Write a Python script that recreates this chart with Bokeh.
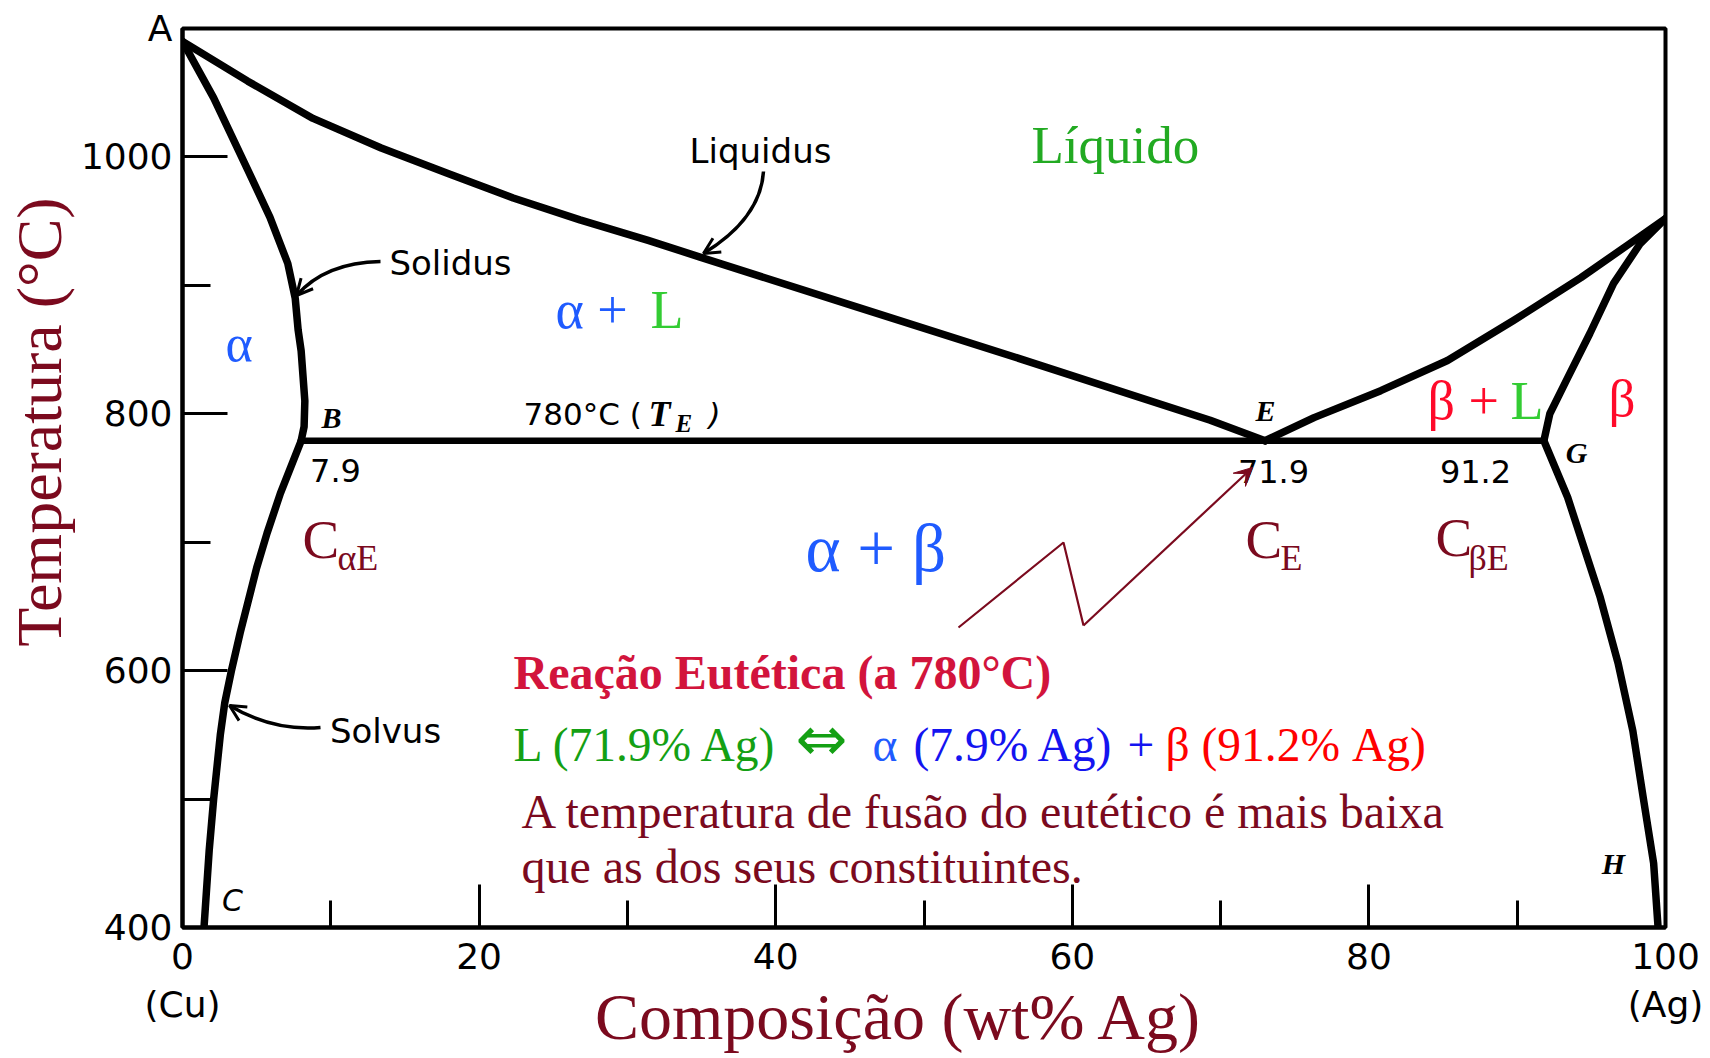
import math
from bokeh.plotting import figure
from bokeh.models import Range1d, FixedTicker, Label, Arrow, VeeHead, OpenHead
from bokeh.embed import file_html
from bokeh.resources import INLINE

# ---------------- data (wt% Ag, temperature in °C) ----------------
liquidus_left_x = [0.0, 4.4, 8.8, 13.4, 17.9, 22.3, 26.8, 31.4, 34.9, 45.5, 56.7, 69.3, 73.0]
liquidus_left_T = [1090, 1059, 1030, 1007, 987, 968, 951, 935, 922, 883, 842, 795, 779]

solidus_left_x = [0.0, 2.1, 4.4, 5.9, 7.1, 7.6, 7.8, 8.0, 8.25, 8.2, 8.0]
solidus_left_T = [1090, 1046, 990, 953, 917, 890, 865, 849, 810, 790, 779]

solvus_left_x = [8.0, 6.6, 5.7, 5.0, 3.9, 3.3, 2.85, 2.55, 2.1, 1.8, 1.45]
solvus_left_T = [779, 738, 707, 680, 630, 600, 575, 550, 500, 460, 400]

liquidus_right_x = [73.0, 76.3, 80.8, 85.3, 89.75, 94.3, 97.6, 100.0]
liquidus_right_T = [779, 797, 818, 841.5, 872.6, 906, 932.6, 952]

solidus_right_x = [100.0, 98.3, 96.5, 94.9, 93.4, 92.2, 91.8]
solidus_right_T = [952, 932.6, 901.5, 862.5, 828, 800, 779]

solvus_right_x = [91.8, 93.4, 95.6, 96.8, 97.8, 98.5, 99.2, 99.5]
solvus_right_T = [779, 735, 657, 606, 553, 501, 450, 400]

eutectic_x = [8.0, 91.8]
eutectic_T = [779, 779]

x_major_ticks = [0, 20, 40, 60, 80, 100]
x_minor_ticks = [10, 30, 50, 70, 90]
x_tick_labels = ["0\n(Cu)", "20", "40", "60", "80", "100\n(Ag)"]
y_major_ticks = [400, 600, 800, 1000, 1100]
y_minor_ticks = [500, 700, 900]
y_tick_labels = ["400", "600", "800", "1000", "A"]

NBSP = "\u00a0"

# ---------------- colours ----------------
MAROON = "#7B0A1E"
BLUE_R = "#1F5BFF"
RED_R = "#FF0A2A"
GREEN_L = "#33CC33"
GREEN_LIQ = "#22AA22"
CRIMSON = "#D2143C"
GREEN_EQ = "#14A014"
BLUE_EQ = "#1414F0"
RED_EQ = "#FF0000"

W, H = 1708, 1056
FL, FR, FT, FB = 182, 1665, 28, 927   # frame edges on the page

p = figure(width=W, height=H,
           x_range=Range1d(0, 100), y_range=Range1d(400, 1100),
           output_backend="svg", toolbar_location=None,
           min_border_left=FL, min_border_right=W - FR,
           min_border_top=FT, min_border_bottom=H - FB)
p.xgrid.visible = False
p.ygrid.visible = False
p.outline_line_color = "black"
p.outline_line_width = 4
p.outline_line_alpha = 1.0
p.background_fill_color = "white"
p.border_fill_color = "white"

p.xaxis.ticker = FixedTicker(ticks=x_major_ticks, minor_ticks=x_minor_ticks)
p.yaxis.ticker = FixedTicker(ticks=y_major_ticks, minor_ticks=y_minor_ticks)
p.xaxis.major_label_overrides = dict(zip(x_major_ticks, x_tick_labels))
p.yaxis.major_label_overrides = dict(zip(y_major_ticks, y_tick_labels))

for ax in (p.xaxis[0], p.yaxis[0]):
    ax.axis_line_width = 4
    ax.axis_line_color = "black"
    ax.major_tick_line_width = 3
    ax.minor_tick_line_width = 3
    ax.major_tick_line_color = "black"
    ax.minor_tick_line_color = "black"
    ax.major_tick_out = 0
    ax.minor_tick_out = 0
    ax.major_label_text_font = "DejaVu Sans"
    ax.major_label_text_font_size = "36px"
    ax.major_label_text_color = "black"
    ax.axis_label_text_font = "Liberation Serif"
    ax.axis_label_text_font_style = "normal"
    ax.axis_label_text_color = MAROON
p.xaxis.major_tick_in = 43
p.xaxis.minor_tick_in = 27
p.yaxis.major_tick_in = 45
p.yaxis.minor_tick_in = 28
p.xaxis.major_label_standoff = 8
p.yaxis.major_label_standoff = 10
p.xaxis.major_label_text_line_height = 1.19

p.yaxis.axis_label = NBSP * 7 + "Temperatura (°C)"
p.yaxis.axis_label_text_font_size = "64px"
p.yaxis.axis_label_standoff = 3
p.xaxis.axis_label = "Composição (wt% Ag)" + NBSP * 3
p.xaxis.axis_label_text_font_size = "66px"
p.xaxis.axis_label_standoff = -48

# ---------------- phase boundaries ----------------
for xs, ts in [(liquidus_left_x, liquidus_left_T), (solidus_left_x, solidus_left_T),
               (solvus_left_x, solvus_left_T), (liquidus_right_x, liquidus_right_T),
               (solidus_right_x, solidus_right_T), (solvus_right_x, solvus_right_T)]:
    p.line(xs, ts, line_width=7.5, line_color="black", line_join="round", line_cap="round")
p.line(eutectic_x, eutectic_T, line_width=6.5, line_color="black")


# ---------------- annotations ----------------
def at(xp, yp):
    """page-pixel position of an annotation -> data units"""
    return (xp - FL) * 100 / (FR - FL), 1100 - (yp - FT) * 700 / (FB - FT)


def label(text, xp, yp, size, color="black", font="Liberation Serif", style="normal",
          align="left", baseline="alphabetic", angle=0.0):
    if baseline == "alphabetic":
        yp = yp - 0.32 * size
    x, y = at(xp, yp)
    p.add_layout(Label(x=x, y=y, text=text, text_font=font, text_font_size=f"{size}px",
                       text_color=color, text_font_style=style, text_align=align,
                       text_baseline=baseline, angle=angle))


# point letters
label("B", 331, 417, 30, style="bold italic", align="center", baseline="middle")
label("C", 232, 900, 30, font="DejaVu Sans", style="italic", align="center", baseline="middle")
label("E", 1265, 410, 30, style="bold italic", align="center", baseline="middle")
label("G", 1576, 452, 30, style="bold italic", align="center", baseline="middle")
label("H", 1613, 863, 30, style="bold italic", align="center", baseline="middle")

# curve names
label("Liquidus", 760, 150, 34, font="DejaVu Sans", align="center", baseline="middle")
label("Solidus", 450, 262, 34, font="DejaVu Sans", align="center", baseline="middle")
label("Solvus", 385, 730, 34, font="DejaVu Sans", align="center", baseline="middle")

# composition numbers
label("7.9", 335, 470, 32, font="DejaVu Sans", align="center", baseline="middle")
label("71.9", 1273, 471, 32, font="DejaVu Sans", align="center", baseline="middle")
label("91.2", 1475, 471, 32, font="DejaVu Sans", align="center", baseline="middle")

# 780°C (T_E)
label("780°C (", 523, 413, 31, font="DejaVu Sans", baseline="middle")
label("T", 648, 413, 36, style="bold italic", baseline="middle")
label("E", 675, 423, 25, style="bold italic", baseline="middle")
label(")", 708, 413, 31, font="DejaVu Sans", style="italic", baseline="middle")

# phase regions
label("Líquido", 1031, 161, 53, GREEN_LIQ)
label("α", 225, 360, 52, BLUE_R)
label("α +", 555, 327, 54, BLUE_R)
label("L", 650, 327, 54, GREEN_L)
label("α + β", 805, 569, 67, BLUE_R)
label("β +", 1427, 418, 54, RED_R)
label("L", 1510, 418, 54, GREEN_L)
label("β", 1608, 414, 53, RED_R)

# C_alphaE, C_E, C_betaE
label("C", 302, 557, 55, MAROON)
label("αE", 337, 569, 36, MAROON)
label("C", 1245, 557, 55, MAROON)
label("E", 1280, 569, 36, MAROON)
label("C", 1435, 555, 55, MAROON)
label("βE", 1468, 569, 36, MAROON)

# eutectic reaction text
label("Reação Eutética (a 780°C)", 513, 687, 48, CRIMSON, style="bold")
label("L (71.9% Ag)", 513, 760, 47.5, GREEN_EQ)
label("⇔", 821, 738, 62, GREEN_EQ, font="DejaVu Sans", align="center", baseline="middle")
label("α", 872, 760, 47.5, BLUE_R)
label("(7.9% Ag)", 913, 760, 47.5, BLUE_EQ)
label("+", 1127, 760, 47.5, BLUE_EQ)
label("β (91.2% Ag)", 1165, 760, 47.5, RED_EQ)
label("A temperatura de fusão do eutético é mais baixa", 521, 826, 48, MAROON)
label("que as dos seus constituintes.", 521, 881, 48, MAROON)


# small curved arrows pointing at the boundary names
def curved_arrow(start, ctrl, end, width=3.5):
    (x0, y0), (cx, cy), (x1, y1) = at(*start), at(*ctrl), at(*end)
    p.quadratic(x0=[x0], y0=[y0], cx=[cx], cy=[cy], x1=[x1], y1=[y1],
                line_width=width, line_color="black")
    sx, sy = x1 - 0.3 * (x1 - cx), y1 - 0.3 * (y1 - cy)
    p.add_layout(Arrow(x_start=sx, y_start=sy, x_end=x1, y_end=y1, line_alpha=0,
                       end=OpenHead(size=16, line_width=3, line_color="black")))


curved_arrow((763, 171), (760, 218), (703, 253))
curved_arrow((380, 261), (325, 262), (296, 295))
curved_arrow((320, 727), (272, 731), (229, 705))

# maroon zig-zag arrow to the eutectic point
zx, zy = zip(*[at(958, 627), at(1063, 542), at(1083, 625)])
p.line(list(zx), list(zy), line_width=2.2, line_color=MAROON)
ax0, ay0 = at(1083, 625)
ax1, ay1 = at(1252, 467)
p.add_layout(Arrow(x_start=ax0, y_start=ay0, x_end=ax1, y_end=ay1, line_width=2.2,
                   line_color=MAROON,
                   end=VeeHead(size=18, fill_color=MAROON, line_color=MAROON)))

open("out.html", "w").write(file_html(p, INLINE))
